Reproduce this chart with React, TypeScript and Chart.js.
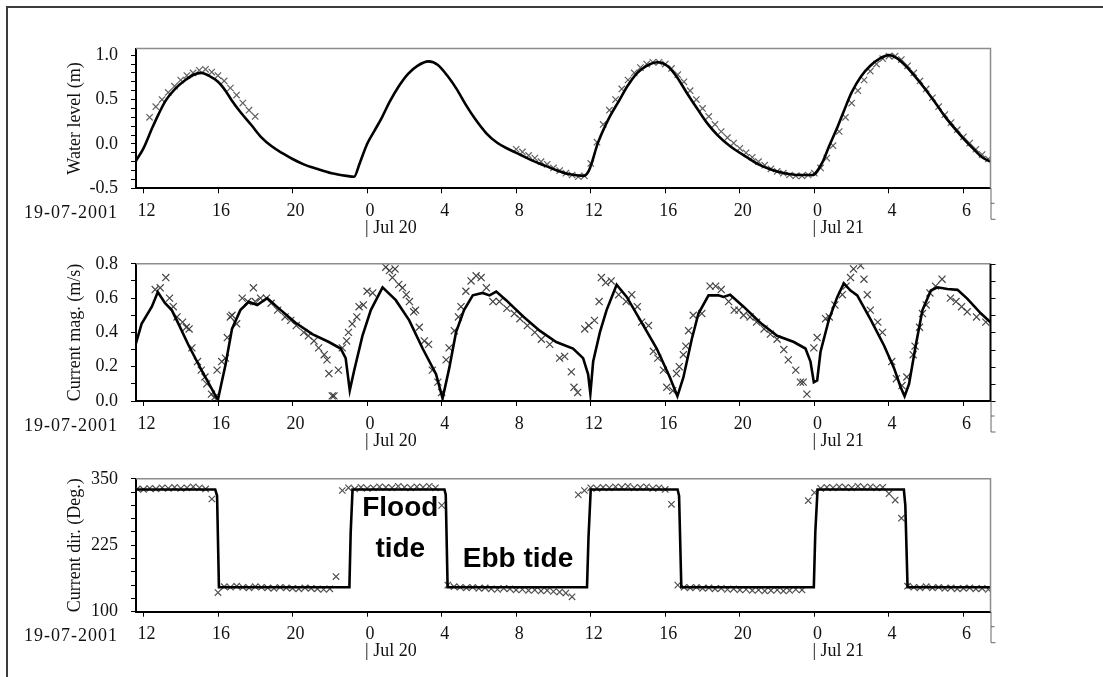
import React, { useEffect, useRef } from "react";
import { Chart, registerables } from "chart.js";

Chart.register(...registerables);

// ---------------- shared time axis ----------------
const X_MIN = 11.6; // hours since 19-07-2001 00:00
const X_MAX = 57.45;
const X_TICKS = [12, 16, 20, 24, 28, 32, 36, 40, 44, 48, 52, 56];
const X_TICK_LABELS = ["12", "16", "20", "0", "4", "8", "12", "16", "20", "0", "4", "6"];
const DATE_LABEL = "19-07-2001";
const DAY_TIMES = [24, 48];
const DAY_LABELS = ["| Jul 20", "| Jul 21"];
const OBS_STEP = 1 / 3; // observation sampling interval (h)

// ---------------- panel 1 : water level ----------------
const WL_TITLE = "Water level (m)";
const WL_LABELS = [-0.5, 0, 0.5, 1.0];
const WL_MODEL: number[][] = [
  [11.6, -0.19], [12.0, -0.05], [12.45, 0.17], [12.8, 0.33], [13.2, 0.49], [13.7, 0.62],
  [14.25, 0.72], [14.7, 0.78], [15.1, 0.8], [15.5, 0.77], [16.0, 0.7], [16.4, 0.6],
  [16.74, 0.49], [17.2, 0.36], [17.8, 0.21], [18.3, 0.08], [18.9, -0.03], [19.5, -0.11],
  [20.0, -0.17], [20.6, -0.23], [21.3, -0.28], [22.1, -0.33], [22.9, -0.36], [23.3, -0.37],
  [23.6, -0.22], [24.0, 0.0], [24.4, 0.15], [24.8, 0.3], [25.2, 0.47], [25.7, 0.65],
  [26.2, 0.79], [26.7, 0.88], [27.3, 0.93], [27.8, 0.89], [28.3, 0.77], [28.8, 0.62],
  [29.3, 0.44], [29.8, 0.28], [30.4, 0.12], [31.0, 0.01], [31.6, -0.06], [32.3, -0.13],
  [33.0, -0.2], [33.6, -0.25], [34.2, -0.3], [34.8, -0.34], [35.6, -0.36], [35.9, -0.3],
  [36.4, 0.02], [37.0, 0.3], [37.5, 0.48], [38.0, 0.66], [38.5, 0.8], [39.0, 0.88],
  [39.6, 0.92], [40.1, 0.88], [40.6, 0.76], [41.2, 0.56], [41.8, 0.37], [42.3, 0.22],
  [42.8, 0.1], [43.5, -0.03], [44.3, -0.14], [45.0, -0.23], [45.7, -0.29], [46.4, -0.33],
  [47.2, -0.35], [47.9, -0.35], [48.4, -0.22], [48.8, -0.02], [49.2, 0.17], [49.6, 0.38],
  [50.0, 0.58], [50.5, 0.76], [51.0, 0.88], [51.5, 0.96], [52.0, 1.0], [52.4, 0.97],
  [52.9, 0.88], [53.4, 0.76], [53.9, 0.63], [54.5, 0.46], [55.0, 0.31], [55.5, 0.18],
  [56.0, 0.06], [56.6, -0.07], [57.0, -0.15], [57.45, -0.2],
];
const WL_OBS_START = [12.33, 32.0];
const WL_OBS_A = [0.3, 0.42, 0.5, 0.58, 0.65, 0.72, 0.77, 0.8, 0.83, 0.84, 0.81, 0.77, 0.71, 0.63, 0.55, 0.46, 0.38, 0.31];
const WL_OBS_B = [
  -0.06, -0.09, -0.13, -0.16, -0.2, -0.23, -0.27, -0.3, -0.33, -0.35, -0.37, -0.36,
  -0.22, 0.02, 0.22, 0.38, 0.5, 0.62, 0.72, 0.8, 0.86, 0.9, 0.92, 0.92,
  0.9, 0.85, 0.78, 0.7, 0.6, 0.5, 0.4, 0.31, 0.22, 0.14, 0.07, 0.01,
  -0.05, -0.1, -0.15, -0.2, -0.24, -0.28, -0.31, -0.33, -0.35, -0.36, -0.36, -0.35,
  -0.33, -0.27, -0.16, -0.02, 0.14, 0.3, 0.46, 0.6, 0.72, 0.82, 0.9, 0.96,
  0.99, 0.99, 0.95, 0.88, 0.8, 0.71, 0.62, 0.52, 0.42, 0.33, 0.24, 0.16,
  0.08, 0.01, -0.06, -0.12, -0.17,
];

// ---------------- panel 2 : current magnitude ----------------
const CM_TITLE = "Current mag. (m/s)";
const CM_LABELS = [0, 0.2, 0.4, 0.6, 0.8];
const CM_MODEL: number[][] = [
  [11.5, 0.3], [11.9, 0.45], [12.45, 0.55], [12.77, 0.635], [13.16, 0.57], [13.52, 0.53],
  [13.88, 0.45], [14.42, 0.325], [15.14, 0.175], [15.9, 0.024], [16.0, 0.01], [16.4, 0.21],
  [16.75, 0.42], [17.2, 0.53], [17.65, 0.578], [18.1, 0.56], [18.64, 0.6], [19.26, 0.54],
  [20.16, 0.456], [21.06, 0.39], [21.95, 0.344], [22.58, 0.306], [22.85, 0.25], [23.07, 0.062],
  [23.3, 0.175], [23.75, 0.38], [24.2, 0.53], [24.83, 0.663], [25.54, 0.588], [26.26, 0.47],
  [26.98, 0.306], [27.7, 0.156], [28.05, 0.015], [28.41, 0.193], [28.77, 0.4], [29.2, 0.53],
  [29.67, 0.616], [30.2, 0.63], [30.57, 0.616], [30.93, 0.638], [31.46, 0.588], [32.36, 0.494],
  [33.26, 0.41], [34.15, 0.344], [35.05, 0.306], [35.59, 0.25], [35.86, 0.156], [35.98, 0.043],
  [36.13, 0.23], [36.49, 0.4], [36.85, 0.53], [37.39, 0.678], [37.93, 0.607], [38.64, 0.475],
  [39.54, 0.306], [40.25, 0.137], [40.65, 0.028], [40.97, 0.137], [41.42, 0.36], [41.78, 0.51],
  [42.32, 0.616], [42.85, 0.616], [43.12, 0.607], [43.48, 0.62], [44.2, 0.55], [45.1, 0.456],
  [46.0, 0.38], [46.9, 0.344], [47.52, 0.306], [47.79, 0.23], [47.97, 0.109], [48.15, 0.12],
  [48.33, 0.287], [48.78, 0.475], [49.23, 0.607], [49.58, 0.686], [49.94, 0.644], [50.3, 0.616],
  [51.02, 0.475], [51.73, 0.325], [52.27, 0.193], [52.63, 0.08], [52.84, 0.028], [53.08, 0.1],
  [53.44, 0.325], [53.8, 0.53], [54.25, 0.644], [54.6, 0.663], [55.14, 0.653], [55.68, 0.648],
  [56.2, 0.597], [56.94, 0.51], [57.48, 0.456],
];
const CM_OBS: number[][] = [
  [12.63, 0.65], [12.9, 0.66], [13.2, 0.72], [13.4, 0.6], [13.6, 0.55], [13.8, 0.49], [14.1, 0.46],
  [14.3, 0.43], [14.45, 0.42], [14.6, 0.31], [14.9, 0.23], [15.1, 0.18], [15.3, 0.14], [15.4, 0.1],
  [15.65, 0.04], [15.8, 0.02], [15.95, 0.18], [16.2, 0.23], [16.4, 0.25], [16.5, 0.37], [16.66, 0.49],
  [16.75, 0.5], [17.0, 0.45], [17.3, 0.6], [17.6, 0.58], [17.9, 0.66], [18.0, 0.58], [18.28, 0.6],
  [18.6, 0.6], [18.85, 0.57], [19.2, 0.53], [19.6, 0.49], [19.9, 0.47], [20.2, 0.44], [20.6, 0.4],
  [20.85, 0.38], [21.15, 0.35], [21.4, 0.31], [21.7, 0.27], [21.85, 0.24], [21.95, 0.16], [22.13, 0.03],
  [22.22, 0.03], [22.46, 0.18], [22.67, 0.31], [22.9, 0.35], [23.0, 0.4], [23.2, 0.45], [23.45, 0.49],
  [23.57, 0.55], [23.8, 0.56], [24.0, 0.64], [24.3, 0.63], [25.0, 0.78], [25.2, 0.76], [25.36, 0.72],
  [25.5, 0.77], [25.7, 0.68], [25.9, 0.66], [26.1, 0.62], [26.27, 0.58], [26.5, 0.52], [26.6, 0.53],
  [26.8, 0.43], [27.07, 0.35], [27.3, 0.33], [27.5, 0.18], [27.8, 0.11], [28.0, 0.05], [28.24, 0.24],
  [28.4, 0.31], [28.68, 0.41], [28.9, 0.49], [29.04, 0.55], [29.3, 0.64], [29.58, 0.7], [29.85, 0.73],
  [30.12, 0.72], [30.4, 0.66], [30.75, 0.58], [31.1, 0.58], [31.5, 0.54], [31.9, 0.51], [32.2, 0.48],
  [32.6, 0.44], [33.0, 0.4], [33.35, 0.36], [33.8, 0.33], [34.33, 0.25], [34.6, 0.26], [34.96, 0.17],
  [35.1, 0.08], [35.3, 0.05], [35.68, 0.42], [35.9, 0.44], [36.2, 0.47], [36.45, 0.58], [36.57, 0.72],
  [36.8, 0.69], [37.1, 0.7], [37.5, 0.62], [37.9, 0.58], [38.2, 0.62], [38.5, 0.55], [38.73, 0.46],
  [39.1, 0.44], [39.36, 0.29], [39.6, 0.25], [39.9, 0.18], [40.08, 0.08], [40.4, 0.06], [40.6, 0.16],
  [40.75, 0.2], [40.97, 0.27], [41.1, 0.32], [41.25, 0.41], [41.5, 0.5], [41.96, 0.51], [42.4, 0.67],
  [42.7, 0.67], [43.0, 0.65], [43.4, 0.58], [43.7, 0.53], [43.95, 0.53], [44.2, 0.5], [44.55, 0.49],
  [44.9, 0.46], [45.3, 0.42], [45.64, 0.39], [46.0, 0.36], [46.36, 0.3], [46.6, 0.24], [47.0, 0.18],
  [47.25, 0.11], [47.4, 0.11], [47.6, 0.04], [47.97, 0.31], [48.15, 0.37], [48.6, 0.48], [48.8, 0.49],
  [49.1, 0.56], [49.5, 0.62], [49.7, 0.67], [49.94, 0.72], [50.1, 0.77], [50.48, 0.79], [50.66, 0.71],
  [50.84, 0.62], [51.0, 0.53], [51.4, 0.46], [51.65, 0.4], [52.15, 0.23], [52.4, 0.13], [52.7, 0.09],
  [52.96, 0.14], [53.3, 0.27], [53.4, 0.32], [53.64, 0.43], [53.8, 0.51], [54.0, 0.56], [54.2, 0.63],
  [54.5, 0.67], [54.85, 0.71], [55.3, 0.6], [55.6, 0.58], [55.9, 0.55], [56.2, 0.52], [56.7, 0.49],
  [57.2, 0.46],
];

// ---------------- panel 3 : current direction ----------------
const CD_TITLE = "Current dir. (Deg.)";
const CD_LABELS = [100, 225, 350];
const CD_MODEL: number[][] = [
  [11.6, 330], [15.85, 330], [15.95, 318], [16.05, 146], [23.05, 146], [23.12, 250], [23.22, 330],
  [28.15, 330], [28.22, 320], [28.32, 146], [35.8, 146], [35.88, 240], [36.0, 330], [40.66, 330],
  [40.74, 318], [40.86, 146], [47.97, 146], [48.05, 250], [48.17, 330], [52.8, 330], [52.88, 300],
  [53.0, 146], [57.45, 146],
];
const CD_OBS_START = [11.67, 16.0, 22.67, 28.33, 35.33, 40.67, 47.67, 53.0];
const CD_OBS_VALUES: number[][] = [
  [331, 330, 332, 331, 333, 332, 334, 332, 333, 335, 333, 331, 312],
  [136, 147, 146, 148, 146, 145, 147, 146, 145, 144, 146, 145, 144, 143, 145, 144, 143, 142, 143, 166],
  [328, 333, 331, 334, 332, 333, 335, 334, 333, 336, 334, 333, 335, 334, 336, 333, 300],
  [150, 147, 146, 145, 146, 144, 145, 143, 142, 144, 143, 141, 142, 140, 141, 139, 140, 138, 137, 135, 128],
  [320, 328, 333, 332, 334, 333, 335, 334, 336, 333, 334, 335, 332, 333, 330, 302],
  [150, 146, 145, 146, 144, 145, 143, 144, 142, 143, 141, 142, 140, 141, 139, 140, 141, 139, 140, 142, 141],
  [309, 324, 332, 334, 333, 335, 334, 333, 336, 334, 335, 333, 334, 322, 310, 276],
  [148, 146, 145, 147, 145, 146, 144, 145, 143, 144, 145, 143, 144, 142],
];
const NOTE_TEXT = ["Flood", "tide", "Ebb tide"];
const NOTE_T = [25.78, 25.78, 32.1];
const NOTE_V = [295, 218, 198];

// ---------------- styling / layout ----------------
const SERIF = '"Liberation Serif", "Times New Roman", serif';
const TICK_SIZE = 18;
const TITLE_SIZE = 18;
const W = 1103;

const pts = (arr: number[][]) => arr.map((p) => ({ x: p[0], y: p[1] }));
const seg = (start: number, vals: number[]) => vals.map((v, i) => ({ x: start + i * OBS_STEP, y: v }));

type Panel = {
  top: number; height: number; padTop: number; padBottom: number;
  yMin: number; yMax: number; yMinor: number; yLabels: number[]; yDigits: number;
  title: string; model: { x: number; y: number }[]; obs: { x: number; y: number }[];
  smooth: boolean; rightTicks: boolean; obsRadius: number; obsColor: string;
  notes?: boolean;
};

const PANELS: Panel[] = [
  {
    top: 0, height: 240, padTop: 48.5, padBottom: 11.7,
    yMin: -0.5, yMax: 1.075, yMinor: 0.1, yLabels: WL_LABELS, yDigits: 1,
    title: WL_TITLE, model: pts(WL_MODEL),
    obs: [...seg(WL_OBS_START[0], WL_OBS_A), ...seg(WL_OBS_START[1], WL_OBS_B)],
    smooth: true, rightTicks: false, obsRadius: 4.5, obsColor: "rgba(70,70,70,0.85)",
  },
  {
    top: 240, height: 215, padTop: 19, padBottom: 14,
    yMin: 0, yMax: 0.8, yMinor: 0.1, yLabels: CM_LABELS, yDigits: 1,
    title: CM_TITLE, model: pts(CM_MODEL), obs: pts(CM_OBS),
    smooth: false, rightTicks: true, obsRadius: 5, obsColor: "rgba(50,50,50,0.9)",
  },
  {
    top: 455, height: 222, padTop: 17, padBottom: 25.3,
    yMin: 100, yMax: 350, yMinor: 25, yLabels: CD_LABELS, yDigits: 0,
    title: CD_TITLE, model: pts(CD_MODEL),
    obs: CD_OBS_START.flatMap((s, i) => seg(s, CD_OBS_VALUES[i])),
    smooth: false, rightTicks: false, obsRadius: 4.5, obsColor: "rgba(50,50,50,0.85)", notes: true,
  },
];

const decoPlugin = {
  id: "deco",
  afterDraw(chart: any, _args: any, opts: any) {
    const { ctx, chartArea: a, scales } = chart;
    const xs = scales.x;
    const ys = scales.y;
    ctx.save();
    // upper and right frame of the plot box
    ctx.strokeStyle = "#8c8c8c";
    ctx.lineWidth = 1.5;
    ctx.beginPath();
    ctx.moveTo(a.left, a.top);
    ctx.lineTo(a.right, a.top);
    if (!opts.rightTicks) ctx.lineTo(a.right, a.bottom);
    ctx.stroke();
    if (opts.rightTicks) {
      ctx.strokeStyle = "#000";
      ctx.lineWidth = 2;
      ctx.beginPath();
      ctx.moveTo(a.right, a.top);
      ctx.lineTo(a.right, a.bottom);
      ctx.stroke();
      ctx.lineWidth = 1;
      ctx.beginPath();
      for (const t of ys.ticks) {
        const py = Math.round(ys.getPixelForValue(t.value)) + 0.5;
        ctx.moveTo(a.right, py);
        ctx.lineTo(a.right + 5, py);
      }
      ctx.stroke();
    }
    // small bracket under right end of the time axis
    ctx.strokeStyle = "#666";
    ctx.lineWidth = 1;
    ctx.beginPath();
    ctx.moveTo(a.right + 0.5, a.bottom);
    ctx.lineTo(a.right + 0.5, a.bottom + 31);
    ctx.lineTo(a.right + 5, a.bottom + 31);
    ctx.moveTo(a.right + 0.5, a.bottom + 15);
    ctx.lineTo(a.right + 4, a.bottom + 15);
    ctx.stroke();

    ctx.fillStyle = "#111";
    ctx.font = `${TICK_SIZE}px ${SERIF}`;
    ctx.textBaseline = "middle";
    // date label at left of time axis
    ctx.textAlign = "right";
    try { ctx.letterSpacing = "1px"; } catch (e) { /* ignore */ }
    ctx.fillText(DATE_LABEL, a.left - 18, a.bottom + 25);
    try { ctx.letterSpacing = "0px"; } catch (e) { /* ignore */ }
    // day labels
    ctx.textAlign = "left";
    DAY_TIMES.forEach((t, i) => {
      ctx.fillText(DAY_LABELS[i], xs.getPixelForValue(t) - 2, a.bottom + 40);
    });
    // y title
    ctx.save();
    ctx.font = `${TITLE_SIZE}px ${SERIF}`;
    ctx.translate(75, (a.top + a.bottom) / 2);
    ctx.rotate(-Math.PI / 2);
    ctx.textAlign = "center";
    ctx.fillText(opts.title, 0, 0);
    ctx.restore();
    // annotations
    if (opts.notes) {
      ctx.fillStyle = "#000";
      ctx.font = 'bold 28px "Liberation Sans", Arial, sans-serif';
      ctx.textAlign = "center";
      NOTE_TEXT.forEach((txt, i) => {
        ctx.fillText(txt, xs.getPixelForValue(NOTE_T[i]), ys.getPixelForValue(NOTE_V[i]));
      });
    }
    ctx.restore();
  },
};

function buildConfig(p: Panel): any {
  return {
    type: "scatter",
    data: {
      datasets: [
        {
          data: p.model,
          showLine: true,
          borderColor: "#000",
          borderWidth: 2.6,
          pointRadius: 0,
          tension: 0,
          cubicInterpolationMode: p.smooth ? "monotone" : "default",
        },
        {
          data: p.obs,
          showLine: false,
          pointStyle: "crossRot",
          pointRadius: p.obsRadius,
          borderColor: p.obsColor,
          borderWidth: 1.2,
          backgroundColor: p.obsColor,
        },
      ],
    },
    options: {
      responsive: false,
      animation: false,
      devicePixelRatio: 1,
      events: [],
      layout: { padding: { left: 0, right: W - 990.5, top: p.padTop, bottom: p.padBottom } },
      plugins: {
        legend: { display: false },
        tooltip: { enabled: false },
        deco: { title: p.title, rightTicks: p.rightTicks, notes: !!p.notes },
      },
      scales: {
        x: {
          type: "linear",
          min: X_MIN,
          max: X_MAX,
          afterBuildTicks: (s: any) => {
            s.ticks = X_TICKS.map((v) => ({ value: v }));
          },
          afterFit: (s: any) => {
            s.height = 40;
          },
          ticks: {
            autoSkip: false,
            maxRotation: 0,
            padding: 7,
            labelOffset: 3,
            color: "#111",
            font: { family: SERIF, size: TICK_SIZE },
            callback: (_v: any, i: number) => X_TICK_LABELS[i] ?? "",
          },
          grid: { drawOnChartArea: false, drawTicks: true, tickLength: 5, color: "#000" },
          border: { display: true, color: "#000", width: 2 },
        },
        y: {
          type: "linear",
          min: p.yMin,
          max: p.yMax,
          afterBuildTicks: (s: any) => {
            const last = p.yLabels[p.yLabels.length - 1];
            const n = Math.round((last - p.yMin) / p.yMinor);
            const t: any[] = [];
            for (let i = 0; i <= n; i++) t.push({ value: +(p.yMin + i * p.yMinor).toFixed(4) });
            s.ticks = t;
          },
          afterFit: (s: any) => {
            s.width = 136;
          },
          ticks: {
            autoSkip: false,
            padding: 13,
            color: "#111",
            font: { family: SERIF, size: TICK_SIZE },
            callback: (v: number) =>
              p.yLabels.some((l) => Math.abs(l - v) < 1e-6) ? v.toFixed(p.yDigits) : "",
          },
          grid: { drawOnChartArea: false, drawTicks: true, tickLength: 5, color: "#000" },
          border: { display: true, color: "#000", width: 2 },
        },
      },
    },
    plugins: [decoPlugin],
  };
}

function PanelChart({ p }: { p: Panel }) {
  const ref = useRef<HTMLCanvasElement>(null);
  useEffect(() => {
    if (!ref.current) return;
    const chart = new Chart(ref.current, buildConfig(p));
    return () => chart.destroy();
  }, [p]);
  return (
    <canvas
      ref={ref}
      width={W}
      height={p.height}
      style={{ position: "absolute", left: 0, top: p.top, width: W, height: p.height }}
    />
  );
}

export default function App() {
  return (
    <div style={{ position: "absolute", left: 0, top: 0, width: W, height: 677, background: "#fff", overflow: "hidden" }}>
      <div
        style={{
          position: "absolute", left: 6, top: 6, width: 1097, height: 671,
          borderTop: "2px solid #3c3c3c", borderLeft: "2px solid #3c3c3c",
        }}
      />
      {PANELS.map((p, i) => (
        <PanelChart key={i} p={p} />
      ))}
    </div>
  );
}
